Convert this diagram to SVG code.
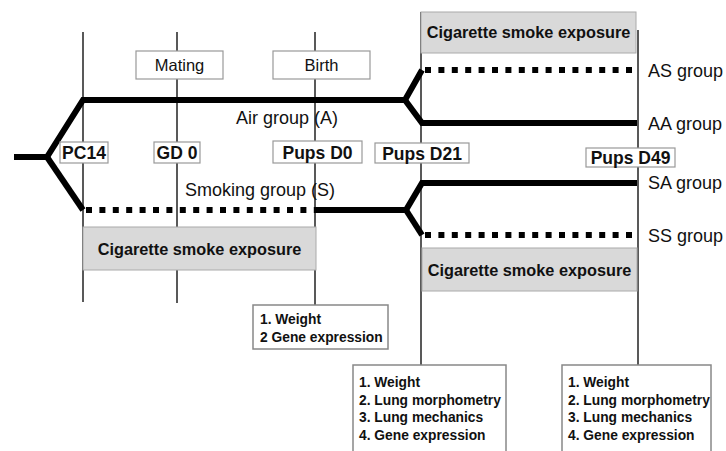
<svg xmlns="http://www.w3.org/2000/svg" width="726" height="451" viewBox="0 0 726 451">
<style>
.vl{stroke:#222;stroke-width:1.5;fill:none}
.thick{stroke:#000;stroke-width:6;fill:none;stroke-linejoin:miter}
.dash{stroke:#000;stroke-width:6;fill:none;stroke-dasharray:6 7.4}
.lbox{fill:#fff;stroke:#999;stroke-width:1.2}
.gbox{fill:#d9d9d9;stroke:#aaa;stroke-width:1}
.wbox{fill:#fff;stroke:#888;stroke-width:1.5}
.b{font-family:"Liberation Sans",Arial,sans-serif;font-weight:bold;fill:#111}
.r{font-family:"Liberation Sans",Arial,sans-serif;fill:#111}
</style>
<rect width="726" height="451" fill="#fff"/>
<g id="connectors">
<line class="vl" x1="83" y1="32" x2="83" y2="302"/>
<line class="vl" x1="177" y1="32" x2="177" y2="303"/>
<line class="vl" x1="315" y1="32" x2="315" y2="305"/>
<line class="vl" x1="421" y1="12" x2="421" y2="365"/>
<line class="vl" x1="638" y1="30" x2="638" y2="365"/>
<polyline class="thick" points="14,157 47,157 83,100 405,100 422,70"/>
<polyline class="thick" points="405,100 422,123 637,123"/>
<polyline class="thick" points="47,157 83,210"/>
<line class="dash" x1="86" y1="210" x2="316" y2="210"/>
<polyline class="thick" points="316,210 406,210 422,183 637,183"/>
<polyline class="thick" points="406,210 422,235"/>
<line class="dash" x1="425" y1="70" x2="637" y2="70"/>
<line class="dash" x1="425" y1="235" x2="637" y2="235"/>
</g>
<g id="mating"><rect class="lbox" x="136" y="51" width="87" height="28"/><text class="r" x="179.5" y="71" font-size="16.5" text-anchor="middle">Mating</text></g>
<g id="birth"><rect class="lbox" x="273" y="51" width="97" height="28"/><text class="r" x="321.5" y="71" font-size="16.5" text-anchor="middle">Birth</text></g>
<g id="exposure-top"><rect class="gbox" x="421" y="12" width="215" height="41"/><text class="b" x="528.5" y="37.5" font-size="16.3" text-anchor="middle">Cigarette smoke exposure</text></g>
<g id="exposure-left"><rect class="gbox" x="83" y="227" width="233" height="43"/><text class="b" x="199.5" y="254.5" font-size="16.3" text-anchor="middle">Cigarette smoke exposure</text></g>
<g id="exposure-right"><rect class="gbox" x="422" y="248" width="215" height="43"/><text class="b" x="529.5" y="275.5" font-size="16.3" text-anchor="middle">Cigarette smoke exposure</text></g>
<g id="pc14"><rect class="lbox" x="60" y="142" width="48" height="21"/><text class="b" x="84" y="159" font-size="17.5" text-anchor="middle">PC14</text></g>
<g id="gd0"><rect class="lbox" x="154" y="142" width="46" height="21"/><text class="b" x="177" y="159" font-size="17.5" text-anchor="middle">GD 0</text></g>
<g id="pupsd0"><rect class="lbox" x="273" y="141" width="89" height="22"/><text class="b" x="317.5" y="159" font-size="17.5" text-anchor="middle">Pups D0</text></g>
<g id="pupsd21"><rect class="lbox" x="375" y="143" width="94" height="20"/><text class="b" x="422" y="159.5" font-size="17.5" text-anchor="middle">Pups D21</text></g>
<g id="pupsd49"><rect class="lbox" x="586" y="148" width="89" height="19"/><text class="b" x="630.5" y="163.5" font-size="17.5" text-anchor="middle">Pups D49</text></g>
<g id="air-label"><text class="r" x="236" y="124" font-size="18">Air group (A)</text></g>
<g id="smoking-label"><text class="r" x="185" y="196" font-size="18">Smoking group (S)</text></g>
<g id="as"><text class="r" x="648" y="77" font-size="18">AS group</text></g>
<g id="aa"><text class="r" x="648" y="130" font-size="18">AA group</text></g>
<g id="sa"><text class="r" x="648" y="189" font-size="18">SA group</text></g>
<g id="ss"><text class="r" x="648" y="242" font-size="18">SS group</text></g>
<g id="measures-d0"><rect class="wbox" x="253" y="305" width="135" height="44"/><text class="b" font-size="13.8"><tspan x="260" y="324">1. Weight</tspan><tspan x="260" y="342">2 Gene expression</tspan></text></g>
<g id="measures-d21"><rect class="wbox" x="353" y="365" width="153" height="90"/><text class="b" font-size="13.8"><tspan x="359" y="387">1. Weight</tspan><tspan x="359" y="404.5">2. Lung morphometry</tspan><tspan x="359" y="422">3. Lung mechanics</tspan><tspan x="359" y="439.5">4. Gene expression</tspan></text></g>
<g id="measures-d49"><rect class="wbox" x="562" y="365" width="149" height="90"/><text class="b" font-size="13.8"><tspan x="568" y="387">1. Weight</tspan><tspan x="568" y="404.5">2. Lung morphometry</tspan><tspan x="568" y="422">3. Lung mechanics</tspan><tspan x="568" y="439.5">4. Gene expression</tspan></text></g>
</svg>
